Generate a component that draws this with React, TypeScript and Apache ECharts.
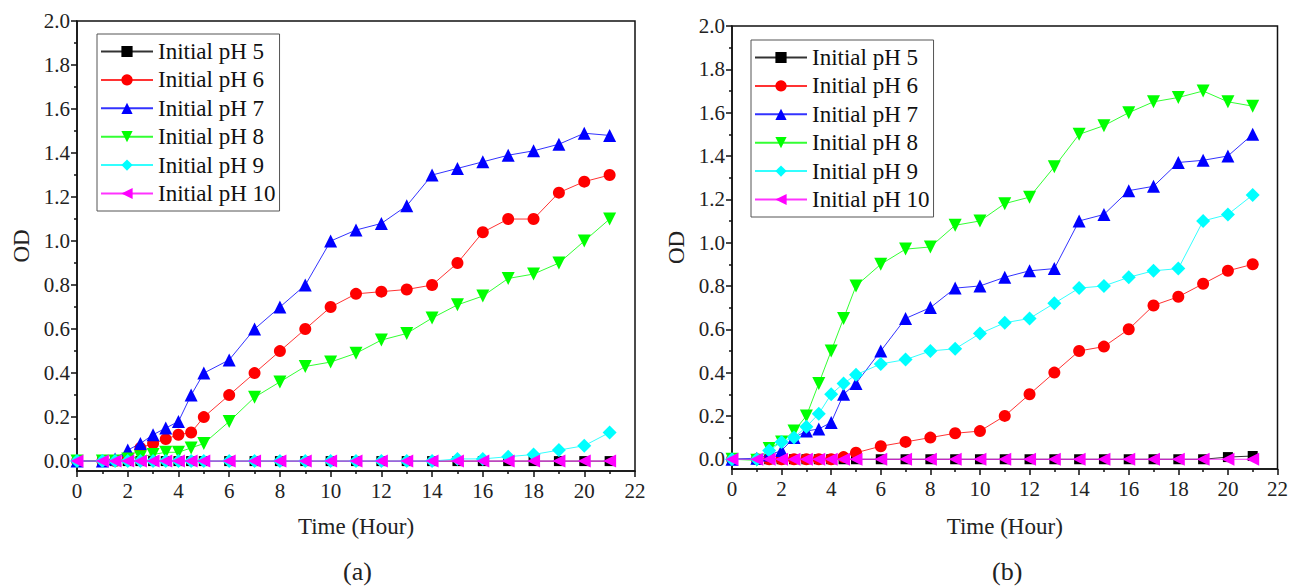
import React, { useEffect, useRef } from "react";
import * as echarts from "echarts";

// Sampling times (hours)
const TIMES = [0, 1, 1.5, 2, 2.5, 3, 3.5, 4, 4.5, 5, 6, 7, 8, 9, 10, 11, 12, 13, 14, 15, 16, 17, 18, 19, 20, 21];

const SERIES_NAMES = ["Initial pH 5", "Initial pH 6", "Initial pH 7", "Initial pH 8", "Initial pH 9", "Initial pH 10"];

// Panel (a)
const A_PH5 = [0, 0, 0, 0, 0, 0, 0, 0, 0, 0, 0, 0, 0, 0, 0, 0, 0, 0, 0, 0, 0, 0, 0, 0, 0, 0];
const A_PH6 = [0, 0, 0, 0.01, 0.06, 0.08, 0.10, 0.12, 0.13, 0.20, 0.30, 0.40, 0.50, 0.60, 0.70, 0.76, 0.77, 0.78, 0.80, 0.90, 1.04, 1.10, 1.10, 1.22, 1.27, 1.30];
const A_PH7 = [0, 0, 0.01, 0.05, 0.08, 0.12, 0.15, 0.18, 0.30, 0.40, 0.46, 0.60, 0.70, 0.80, 1.00, 1.05, 1.08, 1.16, 1.30, 1.33, 1.36, 1.39, 1.41, 1.44, 1.49, 1.48];
const A_PH8 = [0, 0, 0, 0.01, 0.02, 0.03, 0.04, 0.04, 0.06, 0.08, 0.18, 0.29, 0.36, 0.43, 0.45, 0.49, 0.55, 0.58, 0.65, 0.71, 0.75, 0.83, 0.85, 0.90, 1.00, 1.10];
const A_PH9 = [0, 0, 0, 0, 0, 0, 0, 0, 0, 0, 0, 0, 0, 0, 0, 0, 0, 0, 0, 0.01, 0.01, 0.02, 0.03, 0.05, 0.07, 0.13];
const A_PH10 = [0, 0, 0, 0, 0, 0, 0, 0, 0, 0, 0, 0, 0, 0, 0, 0, 0, 0, 0, 0, 0, 0, 0, 0, 0, 0];

// Panel (b)
const B_PH5 = [0, 0, 0, 0, 0, 0, 0, 0, 0, 0, 0, 0, 0, 0, 0, 0, 0, 0, 0, 0, 0, 0, 0, 0, 0.01, 0.015];
const B_PH6 = [0, 0, 0, 0, 0, 0, 0, 0, 0.01, 0.03, 0.06, 0.08, 0.10, 0.12, 0.13, 0.20, 0.30, 0.40, 0.50, 0.52, 0.60, 0.71, 0.75, 0.81, 0.87, 0.90];
const B_PH7 = [0, 0.005, 0.02, 0.04, 0.10, 0.13, 0.14, 0.17, 0.30, 0.35, 0.50, 0.65, 0.70, 0.79, 0.80, 0.84, 0.87, 0.88, 1.10, 1.13, 1.24, 1.26, 1.37, 1.38, 1.40, 1.50];
const B_PH8 = [0, -0.005, 0.05, 0.08, 0.13, 0.20, 0.35, 0.50, 0.65, 0.80, 0.90, 0.97, 0.98, 1.08, 1.10, 1.18, 1.21, 1.35, 1.50, 1.54, 1.60, 1.65, 1.67, 1.70, 1.65, 1.63];
const B_PH9 = [0, 0, 0.04, 0.08, 0.10, 0.15, 0.21, 0.30, 0.35, 0.39, 0.44, 0.46, 0.50, 0.51, 0.58, 0.63, 0.65, 0.72, 0.79, 0.80, 0.84, 0.87, 0.88, 1.10, 1.13, 1.22];
const B_PH10 = [0, 0, 0, 0, 0, 0, 0, 0, 0, 0, 0, 0, 0, 0, 0, 0, 0, 0, 0, 0, 0, 0, 0, 0, 0, 0];

const PANEL_A = [A_PH5, A_PH6, A_PH7, A_PH8, A_PH9, A_PH10];
const PANEL_B = [B_PH5, B_PH6, B_PH7, B_PH8, B_PH9, B_PH10];

// Tick labels
const Y_MAJOR = [0, 0.2, 0.4, 0.6, 0.8, 1.0, 1.2, 1.4, 1.6, 1.8, 2.0];
const Y_MINOR = [0.1, 0.3, 0.5, 0.7, 0.9, 1.1, 1.3, 1.5, 1.7, 1.9];

// Styles
const COLORS = ["#000000", "#ff0000", "#0000ff", "#00ff00", "#00ffff", "#ff00ff"];
const SYMBOLS = ["rect", "circle", "triangle", "triangle", "diamond", "triangle"];
const ROTATES = [0, 0, 0, 180, 0, 90];
const SIZES = [10, 12, 13, 13, 14, 13];

const FONT = "Liberation Serif";
const INK = "#111";

export default function App() {
  const ref = useRef<HTMLDivElement>(null);

  useEffect(() => {
    if (!ref.current) return;
    const chart = echarts.init(ref.current, undefined, { renderer: "svg" });

    const grids = [
      { left: 77, top: 21, right: 656, bottom: 116 },
      { left: 732, top: 26, right: 9, bottom: 118 },
    ];

    const xAxis = grids.map((_, gi) => ({
      type: "value",
      gridIndex: gi,
      min: 0,
      max: 22,
      interval: 2,
      axisLine: { show: true, onZero: false, lineStyle: { color: INK, width: 1.5 } },
      axisTick: { show: true, inside: false, length: 6, lineStyle: { color: INK, width: 1.5 } },
      minorTick: { show: true, splitNumber: 2, length: 3, lineStyle: { color: INK, width: 1.5 } },
      axisLabel: { fontSize: 21, fontFamily: FONT, color: "#222", margin: 9 },
      splitLine: { show: false },
      minorSplitLine: { show: false },
      name: "Time (Hour)",
      nameLocation: "middle",
      nameGap: gi === 0 ? 44 : 46,
      nameTextStyle: { fontSize: 23, fontFamily: FONT, color: "#222" },
    }));

    const yAxis: any[] = [];
    grids.forEach((_, gi) => {
      yAxis.push({
        type: "value",
        gridIndex: gi,
        min: -0.045,
        max: 2.0,
        position: "left",
        axisLine: { show: true, onZero: false, lineStyle: { color: INK, width: 1.5 } },
        axisTick: { show: true, inside: false, length: 6, customValues: Y_MAJOR, lineStyle: { color: INK, width: 1.5 } },
        axisLabel: {
          customValues: Y_MAJOR,
          formatter: (v: number) => v.toFixed(1),
          fontSize: 21,
          fontFamily: FONT,
          color: "#222",
          margin: 7,
        },
        splitLine: { show: false },
        name: "OD",
        nameLocation: "middle",
        nameGap: 44,
        nameTextStyle: { fontSize: 23, fontFamily: FONT, color: "#222" },
      });
      yAxis.push({
        type: "value",
        gridIndex: gi,
        min: -0.045,
        max: 2.0,
        position: "left",
        offset: 0,
        axisLine: { show: false, onZero: false },
        axisTick: { show: true, inside: false, length: 3, customValues: Y_MINOR, lineStyle: { color: INK, width: 1.5 } },
        axisLabel: { show: false },
        splitLine: { show: false },
      });
    });

    const series: any[] = [];
    [PANEL_A, PANEL_B].forEach((panel, pi) => {
      panel.forEach((vals, si) => {
        series.push({
          type: "line",
          name: SERIES_NAMES[si],
          xAxisIndex: pi,
          yAxisIndex: pi * 2,
          data: TIMES.map((t, i) => [t, vals[i]]),
          symbol: SYMBOLS[si],
          symbolSize: SIZES[si],
          symbolRotate: ROTATES[si],
          showAllSymbol: true,
          clip: false,
          z: 2 + si,
          lineStyle: { color: COLORS[si], width: 1, opacity: 0.8 },
          itemStyle: { color: COLORS[si] },
          emphasis: { disabled: true },
        });
      });
    });

    const legendBase = {
      orient: "vertical",
      data: SERIES_NAMES,
      itemWidth: 52,
      itemHeight: 14,
      itemGap: 5.4,
      padding: [6, 4, 6, 3],
      borderColor: "#555",
      borderWidth: 1,
      backgroundColor: "#fff",
      textStyle: { fontSize: 23, lineHeight: 23, fontFamily: FONT, color: INK },
    };

    chart.setOption({
      animation: false,
      backgroundColor: "#ffffff",
      grid: grids.map((g) => ({ ...g, show: true, borderColor: INK, borderWidth: 1.5, backgroundColor: "transparent" })),
      xAxis,
      yAxis,
      legend: [
        { ...legendBase, left: 97, top: 34 },
        { ...legendBase, left: 751, top: 40 },
      ],
      graphic: [
        { type: "text", left: 343, top: 558, style: { text: "(a)", font: `26px ${FONT}`, fill: "#222" } },
        { type: "text", left: 992, top: 558, style: { text: "(b)", font: `26px ${FONT}`, fill: "#222" } },
      ],
      series,
    });

    return () => chart.dispose();
  }, []);

  return (
    <div
      ref={ref}
      style={{ position: "absolute", left: 0, top: 0, width: 1291, height: 587, background: "#fff" }}
    />
  );
}
